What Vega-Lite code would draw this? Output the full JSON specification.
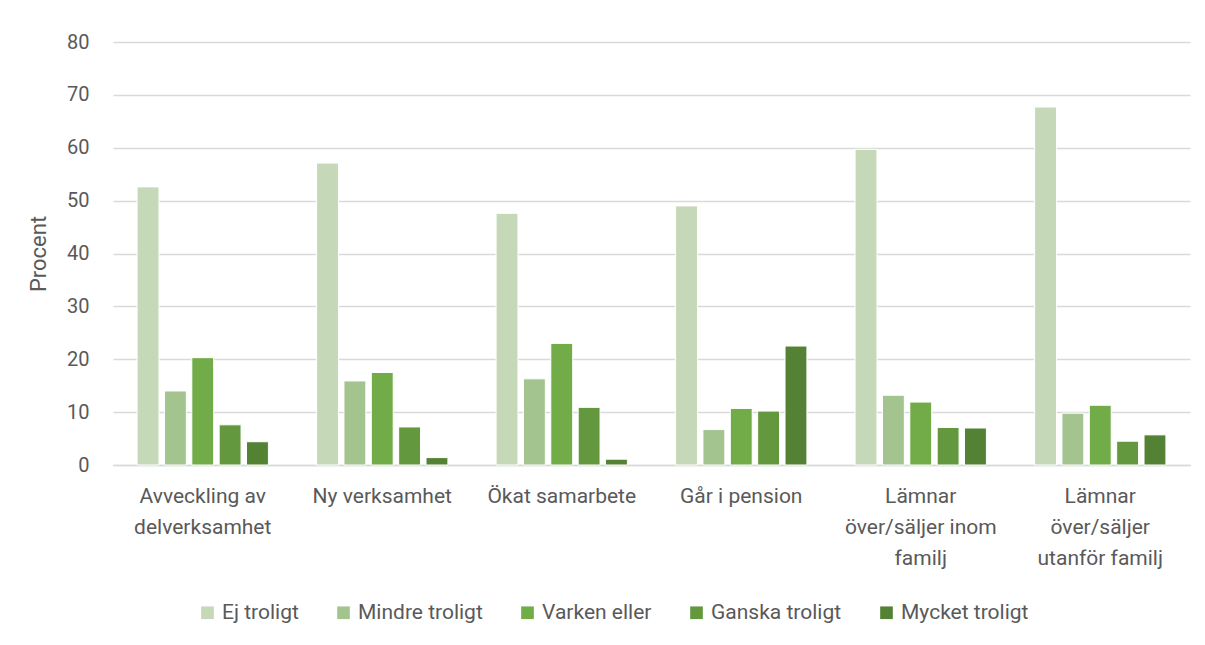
{
  "$schema": "https://vega.github.io/schema/vega-lite/v6.json",
  "width": 1077,
  "height": 423,
  "autosize": {"type": "none"},
  "padding": {"left": 113, "top": 42, "right": 15, "bottom": 180},
  "background": "white",
  "data": {
    "values": [
      {"kat": "Avveckling av|delverksamhet", "svar": "Ej troligt", "procent": 52.6},
      {"kat": "Avveckling av|delverksamhet", "svar": "Mindre troligt", "procent": 14.0},
      {"kat": "Avveckling av|delverksamhet", "svar": "Varken eller", "procent": 20.3},
      {"kat": "Avveckling av|delverksamhet", "svar": "Ganska troligt", "procent": 7.6},
      {"kat": "Avveckling av|delverksamhet", "svar": "Mycket troligt", "procent": 4.4},
      {"kat": "Ny verksamhet", "svar": "Ej troligt", "procent": 57.1},
      {"kat": "Ny verksamhet", "svar": "Mindre troligt", "procent": 15.9},
      {"kat": "Ny verksamhet", "svar": "Varken eller", "procent": 17.5},
      {"kat": "Ny verksamhet", "svar": "Ganska troligt", "procent": 7.2},
      {"kat": "Ny verksamhet", "svar": "Mycket troligt", "procent": 1.4},
      {"kat": "Ökat samarbete", "svar": "Ej troligt", "procent": 47.6},
      {"kat": "Ökat samarbete", "svar": "Mindre troligt", "procent": 16.3},
      {"kat": "Ökat samarbete", "svar": "Varken eller", "procent": 23.0},
      {"kat": "Ökat samarbete", "svar": "Ganska troligt", "procent": 10.9},
      {"kat": "Ökat samarbete", "svar": "Mycket troligt", "procent": 1.1},
      {"kat": "Går i pension", "svar": "Ej troligt", "procent": 49.0},
      {"kat": "Går i pension", "svar": "Mindre troligt", "procent": 6.7},
      {"kat": "Går i pension", "svar": "Varken eller", "procent": 10.7},
      {"kat": "Går i pension", "svar": "Ganska troligt", "procent": 10.2},
      {"kat": "Går i pension", "svar": "Mycket troligt", "procent": 22.5},
      {"kat": "Lämnar|över/säljer inom|familj", "svar": "Ej troligt", "procent": 59.7},
      {"kat": "Lämnar|över/säljer inom|familj", "svar": "Mindre troligt", "procent": 13.2},
      {"kat": "Lämnar|över/säljer inom|familj", "svar": "Varken eller", "procent": 11.9},
      {"kat": "Lämnar|över/säljer inom|familj", "svar": "Ganska troligt", "procent": 7.1},
      {"kat": "Lämnar|över/säljer inom|familj", "svar": "Mycket troligt", "procent": 7.0},
      {"kat": "Lämnar|över/säljer|utanför familj", "svar": "Ej troligt", "procent": 67.7},
      {"kat": "Lämnar|över/säljer|utanför familj", "svar": "Mindre troligt", "procent": 9.8},
      {"kat": "Lämnar|över/säljer|utanför familj", "svar": "Varken eller", "procent": 11.3},
      {"kat": "Lämnar|över/säljer|utanför familj", "svar": "Ganska troligt", "procent": 4.5},
      {"kat": "Lämnar|över/säljer|utanför familj", "svar": "Mycket troligt", "procent": 5.7}
    ]
  },
  "mark": {"type": "bar", "stroke": "white", "strokeWidth": 1},
  "encoding": {
    "x": {
      "field": "kat",
      "type": "nominal",
      "sort": null,
      "scale": {"paddingInner": 0, "paddingOuter": 0},
      "axis": {
        "title": null,
        "labelAngle": 0,
        "labelExpr": "split(datum.label, '|')",
        "labelFontSize": 21,
        "labelLineHeight": 31,
        "labelPadding": 20,
        "labelColor": "#595959",
        "labelFont": "Roboto, sans-serif",
        "domainColor": "#d9d9d9",
        "domainWidth": 1.5,
        "ticks": false,
        "labelBaseline": "top"
      }
    },
    "xOffset": {
      "field": "svar",
      "type": "nominal",
      "sort": ["Ej troligt", "Mindre troligt", "Varken eller", "Ganska troligt", "Mycket troligt"],
      "scale": {"paddingInner": 0.2, "paddingOuter": 0.88}
    },
    "y": {
      "field": "procent",
      "type": "quantitative",
      "scale": {"domain": [0, 80]},
      "axis": {
        "title": "Procent",
        "titleFontSize": 22,
        "titleFontWeight": "normal",
        "titleColor": "#595959",
        "titleFont": "Roboto, sans-serif",
        "titlePadding": 16,
        "values": [0, 10, 20, 30, 40, 50, 60, 70, 80],
        "labelFontSize": 20,
        "labelColor": "#595959",
        "labelFont": "Roboto, sans-serif",
        "labelPadding": 24,
        "domain": false,
        "ticks": false,
        "gridColor": "#d9d9d9",
        "gridWidth": 1.5
      }
    },
    "color": {
      "field": "svar",
      "type": "nominal",
      "sort": ["Ej troligt", "Mindre troligt", "Varken eller", "Ganska troligt", "Mycket troligt"],
      "scale": {
        "domain": ["Ej troligt", "Mindre troligt", "Varken eller", "Ganska troligt", "Mycket troligt"],
        "range": ["#c5d9b9", "#a3c48f", "#71ac48", "#63983e", "#548235"]
      },
      "legend": {
        "title": null,
        "orient": "none",
        "legendX": 84,
        "legendY": 560,
        "direction": "horizontal",
        "symbolType": "square",
        "symbolSize": 160,
        "symbolStrokeWidth": 0,
        "labelFontSize": 21,
        "labelColor": "#595959",
        "labelFont": "Roboto, sans-serif",
        "columnPadding": 34,
        "labelOffset": 4
      }
    }
  },
  "config": {"view": {"stroke": null}}
}
